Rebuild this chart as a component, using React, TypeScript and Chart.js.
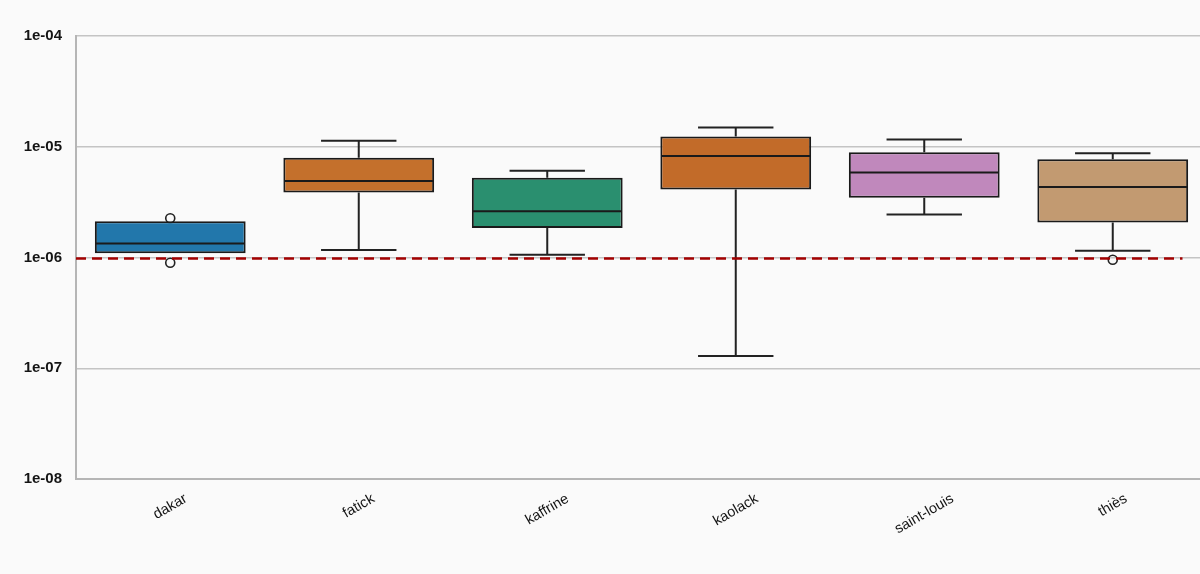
import React, { useEffect, useRef } from 'react';
import { Chart, registerables } from 'chart.js';

Chart.register(...registerables);

// ---- data ----
const categories = ['dakar', 'fatick', 'kaffrine', 'kaolack', 'saint-louis', 'thiès'];
const whiskerLow = [1.09e-6, 1.17e-6, 1.06e-6, 1.29e-7, 2.45e-6, 1.15e-6];
const q1 = [1.09e-6, 3.87e-6, 1.85e-6, 4.12e-6, 3.46e-6, 2.07e-6];
const median = [1.34e-6, 4.9e-6, 2.61e-6, 8.27e-6, 5.86e-6, 4.33e-6];
const q3 = [2.13e-6, 7.94e-6, 5.25e-6, 1.24e-5, 8.93e-6, 7.73e-6];
const whiskerHigh = [2.13e-6, 1.13e-5, 6.07e-6, 1.49e-5, 1.16e-5, 8.75e-6];
const outliers: number[][] = [[2.26e-6, 8.97e-7], [], [], [], [], [9.55e-7]];
const boxColors = ['#2277ab', '#c4702c', '#2a8f6f', '#c26b29', '#c088bc', '#c29a71'];
const thresholdValue = 1e-6;
const yTickValues = [1e-8, 1e-7, 1e-6, 1e-5, 1e-4];
const yTickLabels = ['1e-08', '1e-07', '1e-06', '1e-05', '1e-04'];

const FONT = "'Liberation Sans', Arial, Helvetica, sans-serif";
const TEXT = '#141414';
const EDGE = '#1a1a1a';

const boxPlugin = {
  id: 'boxDetails',
  beforeDraw(chart: any) {
    const { ctx, width, height } = chart;
    ctx.save();
    ctx.fillStyle = '#fafafa';
    ctx.fillRect(0, 0, width, height);
    ctx.restore();
  },
  beforeDatasetsDraw(chart: any) {
    const { ctx } = chart;
    const x = chart.scales.x;
    const y = chart.scales.y;
    const catW = x.width / categories.length;
    const capHalf = catW * 0.8 * 0.25;
    ctx.save();
    ctx.strokeStyle = '#222';
    categories.forEach((_, i) => {
      const cx = x.getPixelForValue(i);
      const yHi = y.getPixelForValue(whiskerHigh[i]);
      const yQ3 = y.getPixelForValue(q3[i]);
      const yQ1 = y.getPixelForValue(q1[i]);
      const yLo = y.getPixelForValue(whiskerLow[i]);
      ctx.lineWidth = 2;
      ctx.beginPath();
      if (whiskerHigh[i] > q3[i]) {
        ctx.moveTo(cx, yQ3);
        ctx.lineTo(cx, yHi);
        ctx.moveTo(cx - capHalf, yHi);
        ctx.lineTo(cx + capHalf, yHi);
      }
      if (whiskerLow[i] < q1[i]) {
        ctx.moveTo(cx, yQ1);
        ctx.lineTo(cx, yLo);
        ctx.moveTo(cx - capHalf, yLo);
        ctx.lineTo(cx + capHalf, yLo);
      }
      ctx.stroke();
      ctx.lineWidth = 1.6;
      outliers[i].forEach((v) => {
        ctx.beginPath();
        ctx.arc(cx, y.getPixelForValue(v), 4.5, 0, Math.PI * 2);
        ctx.stroke();
      });
    });
    ctx.restore();
  },
  afterDatasetsDraw(chart: any) {
    const { ctx, chartArea } = chart;
    const x = chart.scales.x;
    const y = chart.scales.y;
    const catW = x.width / categories.length;
    const boxHalf = catW * 0.8 * 0.5;
    ctx.save();
    ctx.strokeStyle = EDGE;
    ctx.lineWidth = 2;
    categories.forEach((_, i) => {
      const cx = x.getPixelForValue(i);
      const ym = y.getPixelForValue(median[i]);
      ctx.beginPath();
      ctx.moveTo(cx - boxHalf + 1, ym);
      ctx.lineTo(cx + boxHalf - 1, ym);
      ctx.stroke();
    });
    // threshold
    const yt = y.getPixelForValue(thresholdValue) + 1;
    ctx.strokeStyle = '#a30000';
    ctx.lineWidth = 2.5;
    ctx.setLineDash([10, 6]);
    ctx.beginPath();
    ctx.moveTo(chartArea.left, yt);
    ctx.lineTo(x.getPixelForValue(categories.length - 1) + catW * 0.37, yt);
    ctx.stroke();
    ctx.setLineDash([]);
    ctx.restore();
  },
  afterDraw(chart: any) {
    const { ctx, chartArea } = chart;
    const x = chart.scales.x;
    const ang = (30 * Math.PI) / 180;
    const fs = 14.5;
    ctx.save();
    ctx.font = `${fs}px ${FONT}`;
    ctx.fillStyle = TEXT;
    ctx.textAlign = 'center';
    ctx.textBaseline = 'middle';
    categories.forEach((lab, i) => {
      const cx = x.getPixelForValue(i);
      const w = ctx.measureText(lab).width;
      const h = fs * 0.75;
      const bh = w * Math.sin(ang) + h * Math.cos(ang);
      const cy = chartArea.bottom + 14 + bh / 2;
      ctx.save();
      ctx.translate(cx, cy);
      ctx.rotate(-ang);
      ctx.fillText(lab, 0, 0);
      ctx.restore();
    });
    ctx.restore();
  },
};

export default function App() {
  const ref = useRef<HTMLCanvasElement | null>(null);
  useEffect(() => {
    if (!ref.current) return;
    const chart = new Chart(ref.current, {
      type: 'bar',
      data: {
        labels: categories,
        datasets: [
          {
            data: categories.map((_, i) => [q1[i], q3[i]]) as any,
            backgroundColor: boxColors,
            borderColor: EDGE,
            borderWidth: 2,
            borderSkipped: false,
            barPercentage: 0.8,
            categoryPercentage: 1,
          },
        ],
      },
      options: {
        animation: false,
        responsive: false,
        devicePixelRatio: 1,
        layout: { padding: { top: 36, left: 0, right: 0, bottom: 0 } },
        plugins: { legend: { display: false }, tooltip: { enabled: false } },
        scales: {
          x: {
            type: 'category',
            offset: true,
            grid: { display: false },
            border: { display: true, color: '#b5b5b5', width: 2 },
            ticks: { display: false },
            afterFit: (s: any) => {
              s.height = 95;
            },
          },
          y: {
            type: 'logarithmic',
            min: 1e-8,
            max: 1e-4,
            afterBuildTicks: (s: any) => {
              s.ticks = yTickValues.map((v) => ({ value: v }));
            },
            afterFit: (s: any) => {
              s.width = 76;
            },
            grid: { color: '#c4c4c4', lineWidth: 1.5, drawTicks: false },
            border: { display: true, color: '#b5b5b5', width: 2 },
            ticks: {
              padding: 14,
              color: TEXT,
              font: { family: FONT, size: 15, weight: 'bold' },
              callback: (_v: any, idx: number) => yTickLabels[idx],
            },
          },
        },
      },
      plugins: [boxPlugin],
    });
    return () => chart.destroy();
  }, []);
  return (
    <div
      style={{
        position: 'absolute',
        left: 0,
        top: 0,
        width: 1200,
        height: 574,
        overflow: 'hidden',
        background: '#fafafa',
      }}
    >
      <canvas ref={ref} width={1207} height={574} style={{ width: 1207, height: 574, display: 'block' }} />
    </div>
  );
}
